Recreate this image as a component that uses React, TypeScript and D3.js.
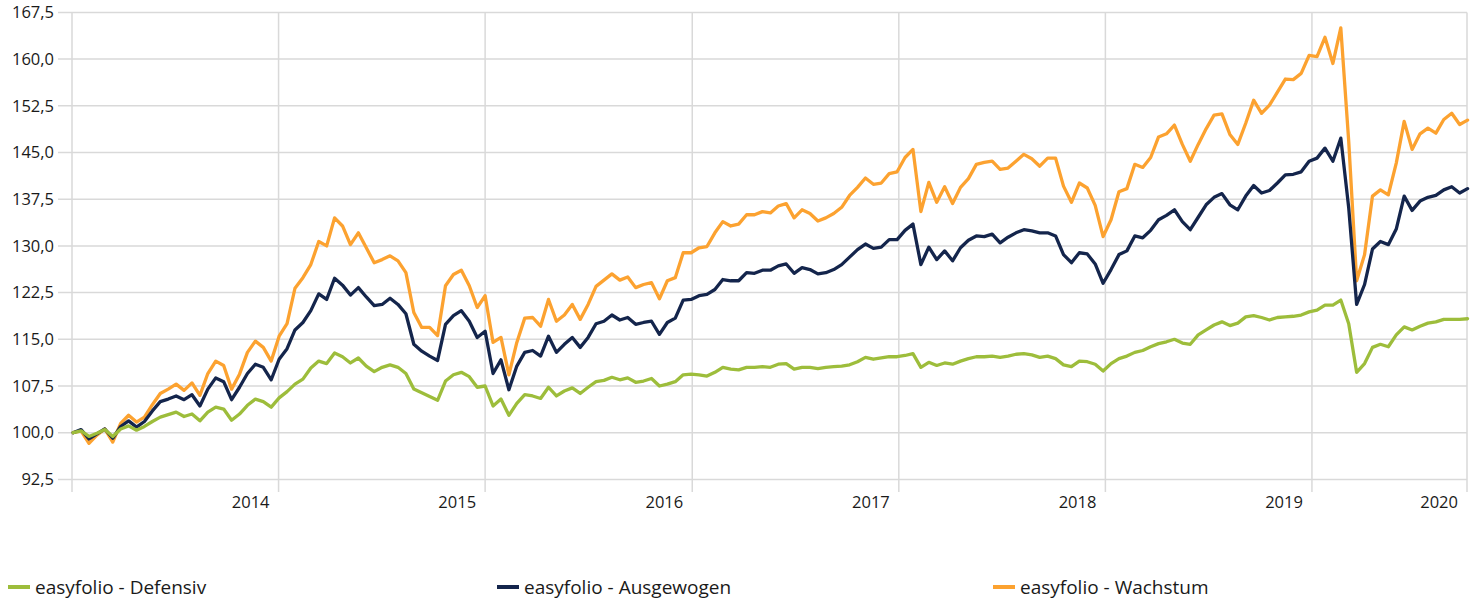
import React from "react";
import * as d3 from "d3";

// Bi-weekly observation dates starting 3 Jan 2014
const START = new Date(2014, 0, 3);
const N_POINTS = 177;
const dates: Date[] = d3.range(N_POINTS).map((i) => d3.timeDay.offset(START, 14 * i));

const wachstum = [
  100.0, 100.3, 98.3, 99.6, 100.6, 98.5, 101.5, 102.8, 101.7, 102.5,
  104.5, 106.3, 107.0, 107.8, 106.8, 108.0, 106.0, 109.5, 111.5, 110.8,
  107.0, 109.4, 112.9, 114.7, 113.7, 111.5, 115.5, 117.5, 123.2, 124.9,
  127.0, 130.7, 130.0, 134.5, 133.2, 130.2, 132.1, 129.7, 127.3, 127.8,
  128.4, 127.6, 125.7, 119.3, 116.9, 116.9, 115.6, 123.6, 125.4, 126.1,
  123.6, 120.1, 122.0, 114.5, 115.3, 109.3, 114.5, 118.4, 118.5, 117.1,
  121.4, 117.9, 118.9, 120.6, 118.2, 120.6, 123.5, 124.5, 125.5, 124.5,
  125.0, 123.3, 123.8, 124.1, 121.5, 124.4, 124.9, 128.9, 128.9, 129.7,
  129.9, 132.1, 133.9, 133.2, 133.5, 135.0, 135.0, 135.5, 135.3, 136.4,
  136.8, 134.5, 135.8, 135.2, 134.0, 134.5, 135.2, 136.2, 138.1, 139.4,
  140.9, 139.9, 140.1, 141.6, 141.9, 144.2, 145.5, 135.5, 140.2, 137.0,
  139.5, 136.8, 139.4, 140.8, 143.1, 143.4, 143.6, 142.3, 142.5, 143.6,
  144.7, 144.0, 142.8, 144.1, 144.1, 139.6, 137.0, 140.1, 139.3, 136.5,
  131.5, 134.2, 138.7, 139.2, 143.1, 142.6, 144.2, 147.5, 148.0, 149.4,
  146.3, 143.6, 146.3, 148.8, 151.0, 151.2, 147.9, 146.3, 149.7, 153.4,
  151.3, 152.6, 154.7, 156.8, 156.7, 157.7, 160.6, 160.4, 163.5, 159.3,
  165.0, 146.8, 124.4, 128.6, 138.0, 139.0, 138.2, 143.3, 150.0, 145.5,
  148.0, 148.9, 148.1, 150.3, 151.3, 149.5, 150.2,
];

const ausgewogen = [
  100.0, 100.5, 99.0, 99.8, 100.6, 99.1, 101.0, 101.9, 100.9, 101.8,
  103.5, 105.0, 105.4, 105.9, 105.3, 106.1, 104.3, 107.0, 108.8, 108.2,
  105.3, 107.3, 109.5, 111.0, 110.5, 108.5, 111.8, 113.5, 116.5, 117.7,
  119.6, 122.3, 121.4, 124.8, 123.7, 122.1, 123.3, 121.8, 120.4, 120.6,
  121.6, 120.6, 119.1, 114.2, 113.1, 112.3, 111.6, 117.4, 118.8, 119.6,
  117.9, 115.3, 116.3, 109.5, 111.7, 106.9, 110.7, 112.9, 113.2, 112.3,
  115.5, 112.9, 114.2, 115.3, 113.7, 115.3, 117.5, 117.9, 118.9, 118.1,
  118.5, 117.4, 117.7, 117.9, 115.8, 117.7, 118.4, 121.3, 121.4, 122.0,
  122.2, 123.0, 124.6, 124.4, 124.4, 125.7, 125.6, 126.1, 126.1, 126.8,
  127.1, 125.6, 126.5, 126.2, 125.5, 125.7, 126.2, 127.0, 128.2, 129.4,
  130.3, 129.6, 129.8, 131.0, 131.0, 132.5, 133.5, 127.0, 129.8, 127.8,
  129.2, 127.6, 129.7, 130.9, 131.6, 131.5, 131.9, 130.5, 131.4, 132.1,
  132.6, 132.4, 132.1, 132.1, 131.6, 128.6, 127.3, 128.9, 128.7, 127.1,
  124.0, 126.2, 128.6, 129.2, 131.6, 131.3, 132.5, 134.2, 134.9, 135.8,
  133.9, 132.6, 134.6, 136.6, 137.8, 138.4, 136.6, 135.8, 138.0, 139.7,
  138.5, 138.9, 140.1, 141.4, 141.5, 141.9, 143.6, 144.1, 145.7, 143.6,
  147.3, 136.1, 120.6, 123.8, 129.5, 130.7, 130.2, 132.7, 138.0, 135.7,
  137.2, 137.8, 138.1, 139.0, 139.5, 138.5, 139.2,
];

const defensiv = [
  100.0, 100.3, 99.4, 99.9, 100.5, 99.4, 100.6, 101.1, 100.4, 101.0,
  101.8, 102.5, 102.9, 103.3, 102.6, 103.0, 101.9, 103.3, 104.1, 103.8,
  102.0, 103.0, 104.4, 105.4, 105.0, 104.1, 105.6, 106.6, 107.8, 108.6,
  110.4, 111.5, 111.1, 112.8, 112.2, 111.2, 112.0, 110.7, 109.8, 110.5,
  110.9, 110.5, 109.5, 107.0, 106.4, 105.8, 105.2, 108.3, 109.3, 109.7,
  109.0, 107.3, 107.5, 104.3, 105.4, 102.8, 104.7, 106.1, 105.9, 105.5,
  107.3, 105.9, 106.7, 107.2, 106.3, 107.3, 108.2, 108.4, 108.9, 108.5,
  108.8, 108.1, 108.3, 108.7, 107.5, 107.8, 108.2, 109.3, 109.4, 109.3,
  109.1, 109.7, 110.5, 110.2, 110.1, 110.5, 110.5, 110.6, 110.5, 111.0,
  111.1, 110.2, 110.5, 110.5, 110.3, 110.5, 110.6, 110.7, 110.9, 111.4,
  112.1, 111.8, 112.0, 112.2, 112.2, 112.4, 112.7, 110.5, 111.3, 110.8,
  111.2, 111.0, 111.5, 111.9, 112.2, 112.2, 112.3, 112.1, 112.3, 112.6,
  112.7, 112.5, 112.1, 112.3, 111.9, 110.9, 110.6, 111.5, 111.4, 111.0,
  109.9, 111.1, 111.9, 112.3, 112.9, 113.2, 113.8, 114.3, 114.6, 115.0,
  114.4, 114.2, 115.7, 116.5, 117.3, 117.8, 117.2, 117.6, 118.6, 118.8,
  118.5, 118.1, 118.5, 118.6, 118.7, 118.9, 119.4, 119.7, 120.5, 120.5,
  121.3, 117.5, 109.7, 111.1, 113.7, 114.2, 113.8, 115.7, 117.0, 116.5,
  117.1, 117.6, 117.8, 118.2, 118.2, 118.2, 118.3,
];

const yTicks = [92.5, 100, 107.5, 115, 122.5, 130, 137.5, 145, 152.5, 160, 167.5];
const yearLabels = ["2014", "2015", "2016", "2017", "2018", "2019", "2020"];
const yearEnds = [
  new Date(2015, 0, 1), new Date(2016, 0, 1), new Date(2017, 0, 1), new Date(2018, 0, 1),
  new Date(2019, 0, 1), new Date(2020, 0, 1), new Date(2020, 9, 1),
];
const seriesNames = ["easyfolio - Defensiv", "easyfolio - Ausgewogen", "easyfolio - Wachstum"];

const COLORS = {
  defensiv: "#9DBD3B",
  ausgewogen: "#14254C",
  wachstum: "#FCA230",
};

const W = 1481;
const H = 602;
const X0 = 72;
const X1 = 1467;
const FONT = "'Open Sans', sans-serif";

export default function App() {
  const x = d3.scaleTime().domain([new Date(2014, 0, 1), new Date(2020, 9, 1)]).range([X0, X1]);
  const y = d3.scaleLinear().domain([92.5, 167.5]).range([479.4, 12.4]);
  const fmt = (v: number) => v.toFixed(1).replace(".", ",");

  const line = (vals: number[]) =>
    d3
      .line<number>()
      .x((_, i) => x(dates[i]))
      .y((v) => y(v))(vals) || "";

  const series = [
    { name: seriesNames[2], vals: wachstum, color: COLORS.wachstum },
    { name: seriesNames[1], vals: ausgewogen, color: COLORS.ausgewogen },
    { name: seriesNames[0], vals: defensiv, color: COLORS.defensiv },
  ];

  const legend = [
    { name: seriesNames[0], color: COLORS.defensiv, x: 8 },
    { name: seriesNames[1], color: COLORS.ausgewogen, x: 497 },
    { name: seriesNames[2], color: COLORS.wachstum, x: 993 },
  ];

  const gridColor = "#d9d9d9";

  return (
    <svg
      width={W}
      height={H}
      style={{ position: "absolute", left: 0, top: 0, background: "#fff" }}
      fontFamily={FONT}
    >
      {yTicks.map((t) => (
        <line key={"h" + t} x1={58} x2={X1} y1={y(t)} y2={y(t)} stroke={gridColor} strokeWidth={1.5} />
      ))}
      {[new Date(2014, 0, 1), ...yearEnds].map((d, i) => (
        <line
          key={"v" + i}
          x1={x(d)}
          x2={x(d)}
          y1={y(167.5)}
          y2={492}
          stroke={gridColor}
          strokeWidth={1.5}
        />
      ))}
      {yTicks.map((t) => (
        <text
          key={"yl" + t}
          x={54}
          y={y(t)}
          dy="0.35em"
          textAnchor="end"
          fontSize={16.5}
          fill="#1a1a1a"
        >
          {fmt(t)}
        </text>
      ))}
      {yearLabels.map((lab, i) => (
        <text key={"xl" + lab} x={x(yearEnds[i]) - 9} y={508} textAnchor="end" fontSize={16.5} fill="#1a1a1a">
          {lab}
        </text>
      ))}
      {series.map((s) => (
        <path
          key={s.name}
          d={line(s.vals)}
          fill="none"
          stroke={s.color}
          strokeWidth={3.3}
          strokeLinejoin="round"
          strokeLinecap="round"
        />
      ))}
      {legend.map((l) => (
        <g key={l.name}>
          <line x1={l.x} x2={l.x + 22} y1={587} y2={587} stroke={l.color} strokeWidth={4} />
          <text x={l.x + 27} y={587} dy="0.35em" fontSize={19} fill="#1a1a1a">
            {l.name}
          </text>
        </g>
      ))}
    </svg>
  );
}
